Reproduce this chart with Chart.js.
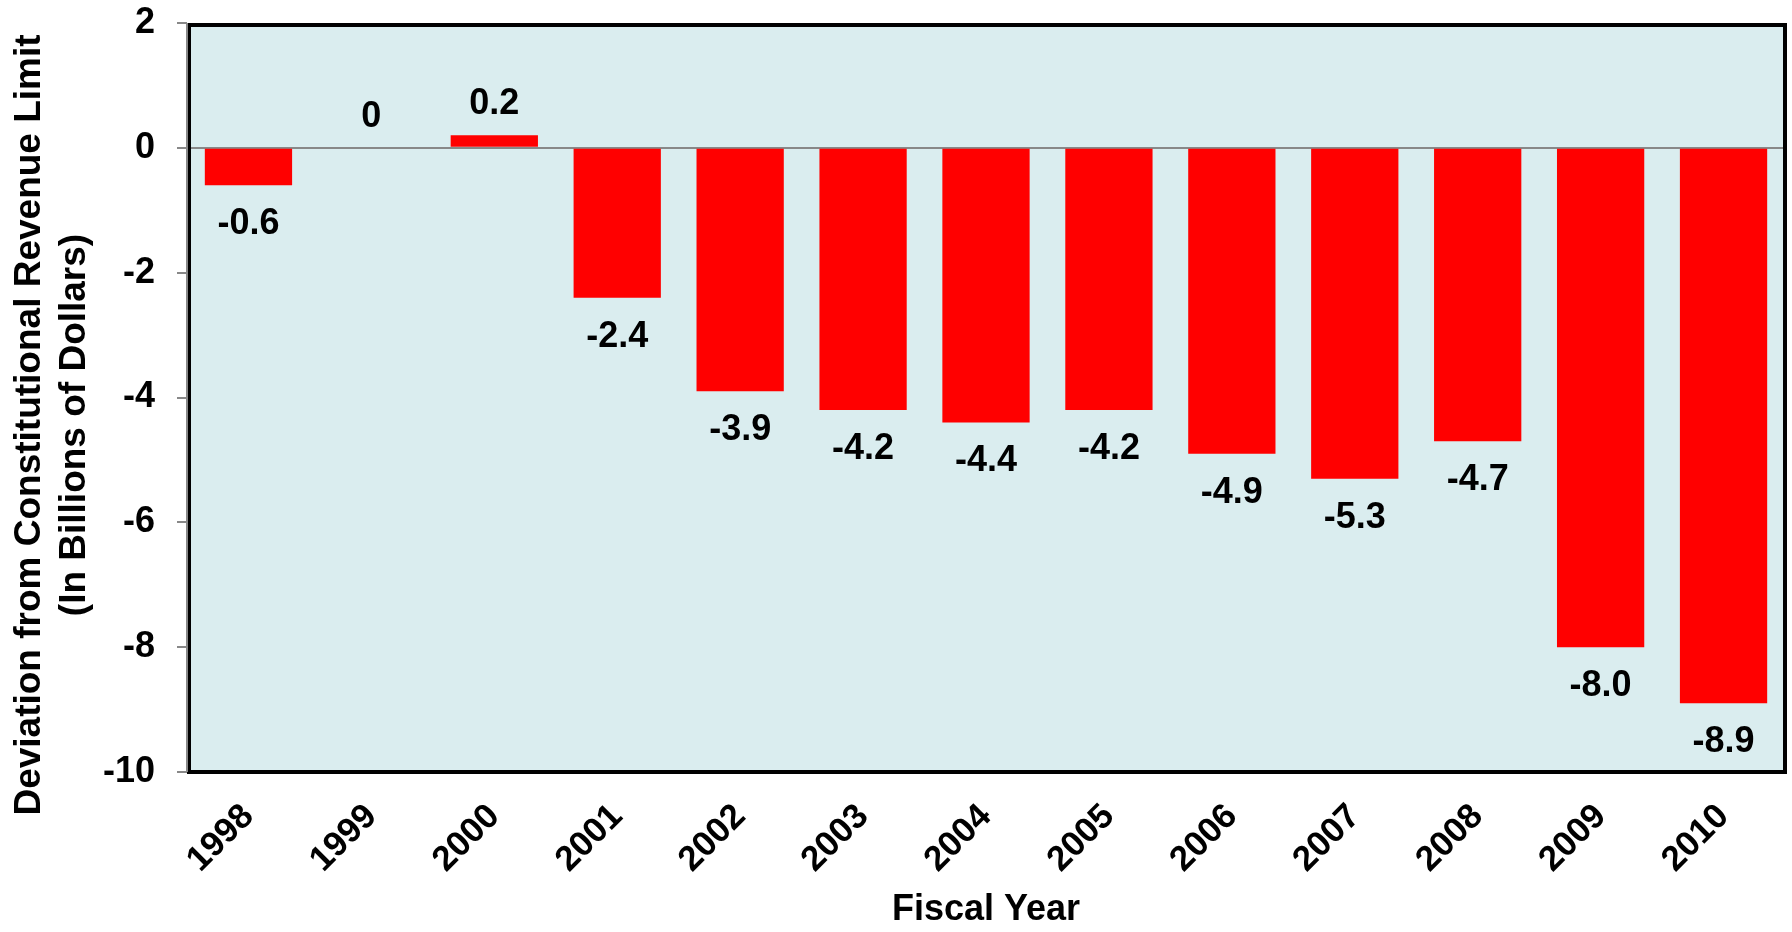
<!DOCTYPE html>
<html>
<head>
<meta charset="utf-8">
<script src="https://cdn.jsdelivr.net/npm/chart.js@4/dist/chart.umd.min.js"></script>
<style>
  body { margin: 0; background: #fff; }
  #wrap { width: 1792px; height: 932px; }
</style>
</head>
<body>
<div id="wrap"><canvas id="devChart"></canvas></div>
<script>
const years = ["1998", "1999", "2000", "2001", "2002", "2003", "2004", "2005", "2006", "2007", "2008", "2009", "2010"];
const deviation = [-0.6, 0, 0.2, -2.4, -3.9, -4.2, -4.4, -4.2, -4.9, -5.3, -4.7, -8.0, -8.9];
const yTitle = ["Deviation from Constitutional Revenue Limit", "(In Billions of Dollars)"];
const xTitle = "Fiscal Year";

const FONT = "'Liberation Sans', Arial, sans-serif";

// plot background, frame, value labels and the two-line y title
const decor = {
    id: "decor",
    beforeDraw(chart) {
        const { ctx, chartArea: a } = chart;
        ctx.save();
        ctx.fillStyle = "#daedef";
        ctx.fillRect(a.left, a.top, a.right - a.left, a.bottom - a.top);
        ctx.restore();
    },
    afterDatasetsDraw(chart) {
        const { ctx } = chart;
        const meta = chart.getDatasetMeta(0);
        ctx.save();
        ctx.font = "bold 36px " + FONT;
        ctx.fillStyle = "#000";
        ctx.textAlign = "center";
        meta.data.forEach((bar, i) => {
            const v = deviation[i];
            const txt = v === 0 ? "0" : v.toFixed(1);
            if (v >= 0) {
                ctx.textBaseline = "bottom";
                ctx.fillText(txt, bar.x, bar.y - 13);
            } else {
                ctx.textBaseline = "top";
                ctx.fillText(txt, bar.x, bar.y + 21);
            }
        });
        ctx.restore();
    },
    afterDraw(chart) {
        const { ctx, chartArea: a } = chart;
        ctx.save();
        ctx.strokeStyle = "#000";
        ctx.lineWidth = 4;
        ctx.strokeRect(a.left + 2, a.top + 2, a.right - a.left - 2, a.bottom - a.top - 2);
        ctx.strokeStyle = "#888";
        ctx.lineWidth = 2;
        ctx.beginPath();
        ctx.moveTo(a.left, a.top);
        ctx.lineTo(a.left, a.bottom);
        ctx.stroke();

        ctx.translate(52, 425);
        ctx.rotate(-Math.PI / 2);
        ctx.font = "bold 37px " + FONT;
        ctx.fillStyle = "#000";
        ctx.textAlign = "center";
        ctx.textBaseline = "middle";
        ctx.fillText(yTitle[0], 0, -22);
        ctx.fillText(yTitle[1], 0, 23);
        ctx.restore();
    }
};

new Chart(document.getElementById("devChart"), {
    type: "bar",
    data: {
        labels: years,
        datasets: [{
            data: deviation,
            backgroundColor: "#ff0000",
            borderWidth: 0,
            barPercentage: 0.71,
            categoryPercentage: 1.0
        }]
    },
    options: {
        responsive: true,
        maintainAspectRatio: false,
        animation: false,
        layout: { padding: { top: 23, right: 7, left: 0, bottom: 0 } },
        plugins: { legend: { display: false }, tooltip: { enabled: false } },
        scales: {
            x: {
                grid: { display: false },
                border: { display: false },
                ticks: {
                    color: "#000",
                    font: { family: FONT, size: 35, weight: "bold" },
                    maxRotation: 45,
                    minRotation: 45,
                    padding: 16
                },
                title: {
                    display: true,
                    text: xTitle,
                    color: "#000",
                    font: { family: FONT, size: 36, weight: "bold" },
                    padding: { top: 0, bottom: 0 }
                },
                afterFit(scale) {
                    scale.height = 160;
                    scale.paddingLeft = 0;
                    scale.paddingRight = 0;
                }
            },
            y: {
                min: -10,
                max: 2,
                border: { display: false },
                grid: {
                    color: c => c.tick && c.tick.value === 0 ? "#888" : "rgba(0,0,0,0)",
                    lineWidth: 2,
                    tickColor: "#888",
                    tickLength: 10
                },
                ticks: {
                    stepSize: 2,
                    color: "#000",
                    padding: 22,
                    font: { family: FONT, size: 36, weight: "bold" }
                },
                afterFit(scale) {
                    scale.width = 187;
                    scale.paddingTop = 0;
                    scale.paddingBottom = 0;
                }
            }
        }
    },
    plugins: [decor]
});
</script>
</body>
</html>
